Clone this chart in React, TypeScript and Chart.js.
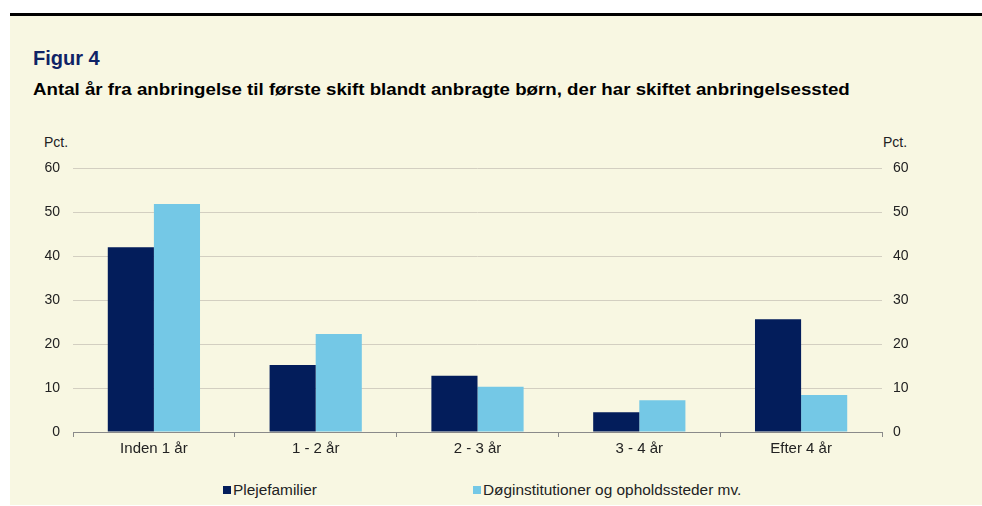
import React, { useEffect, useRef } from "react";
import { Chart, registerables } from "chart.js";

Chart.register(...registerables);

const categories = ["Inden 1 år", "1 - 2 år", "2 - 3 år", "3 - 4 år", "Efter 4 år"];
const seriesNames = ["Plejefamilier", "Døginstitutioner og opholdssteder mv."];
const plejefamilier = [42.0, 15.2, 12.8, 4.5, 25.6];
const doeginstitutioner = [51.8, 22.3, 10.3, 7.2, 8.4];
const seriesColors = ["#031D5B", "#74C8E6"];
const yTicks = [0, 10, 20, 30, 40, 50, 60];

const FONT = '"Liberation Sans", Arial, Helvetica, sans-serif';
const TEXT = "#222222";

export default function App() {
  const canvasRef = useRef<HTMLCanvasElement | null>(null);

  useEffect(() => {
    const canvas = canvasRef.current;
    if (!canvas) return;
    const chart = new Chart(canvas, {
      type: "bar",
      data: {
        labels: categories,
        datasets: [
          {
            label: seriesNames[0],
            data: plejefamilier,
            backgroundColor: seriesColors[0],
            borderWidth: 0,
            categoryPercentage: 0.57,
            barPercentage: 1.0,
          },
          {
            label: seriesNames[1],
            data: doeginstitutioner,
            backgroundColor: seriesColors[1],
            borderWidth: 0,
            categoryPercentage: 0.57,
            barPercentage: 1.0,
          },
        ],
      },
      options: {
        responsive: false,
        animation: false,
        devicePixelRatio: 1,
        layout: { padding: { top: 168, left: 0, right: 0, bottom: 0 } },
        plugins: {
          legend: { display: false },
          tooltip: { enabled: false },
        },
        scales: {
          x: {
            offset: true,
            grid: {
              display: true,
              drawOnChartArea: false,
              drawTicks: true,
              tickLength: 5,
              color: "#8A8A8A",
              offset: true,
            },
            border: { display: true, color: "#8A8A8A", width: 1 },
            ticks: {
              color: TEXT,
              font: { family: FONT, size: 15 },
              padding: 3,
              maxRotation: 0,
            },
            afterFit: (s: any) => {
              s.height = 38;
            },
          },
          y: {
            position: "left",
            min: 0,
            max: 60,
            afterBuildTicks: (s: any) => {
              s.ticks = yTicks.map((v) => ({ value: v }));
            },
            grid: { color: "#D3CFC1", lineWidth: 1, drawTicks: false },
            border: { display: false },
            ticks: {
              color: TEXT,
              font: { family: FONT, size: 14 },
              padding: 13,
            },
            afterFit: (s: any) => {
              s.width = 73;
            },
          },
          y2: {
            position: "right",
            min: 0,
            max: 60,
            afterBuildTicks: (s: any) => {
              s.ticks = yTicks.map((v) => ({ value: v }));
            },
            grid: { display: false, drawTicks: false },
            border: { display: false },
            ticks: {
              color: TEXT,
              font: { family: FONT, size: 14 },
              padding: 11,
            },
            afterFit: (s: any) => {
              s.width = 100;
            },
          },
        },
      },
    });
    return () => chart.destroy();
  }, []);

  const legendPos = [223, 473];

  return (
    <div
      style={{
        position: "absolute",
        left: 0,
        top: 0,
        width: 982,
        height: 506,
        background: "#ffffff",
        fontFamily: FONT,
        overflow: "hidden",
      }}
    >
      <div style={{ position: "absolute", left: 10, top: 13, width: 972, height: 3, background: "#000" }} />
      <div style={{ position: "absolute", left: 10, top: 16, width: 972, height: 489, background: "#F8F7E2" }} />
      <div
        style={{
          position: "absolute",
          left: 33,
          top: 47.5,
          fontSize: 20,
          lineHeight: "20px",
          fontWeight: "bold",
          color: "#0F2366",
          whiteSpace: "nowrap",
        }}
      >
        Figur 4
      </div>
      <div
        style={{
          position: "absolute",
          left: 33,
          top: 80.5,
          fontSize: 17,
          lineHeight: "17px",
          fontWeight: "bold",
          color: "#000",
          whiteSpace: "nowrap",
          transform: "scaleX(1.1)",
          transformOrigin: "0 0",
        }}
      >
        Antal år fra anbringelse til første skift blandt anbragte børn, der har skiftet anbringelsessted
      </div>
      <div style={{ position: "absolute", left: 44, top: 135, fontSize: 14, lineHeight: "14px", color: TEXT }}>Pct.</div>
      <div style={{ position: "absolute", left: 883, top: 135, fontSize: 14, lineHeight: "14px", color: TEXT }}>Pct.</div>
      <canvas
        ref={canvasRef}
        width={982}
        height={470}
        style={{ position: "absolute", left: 0, top: 0, width: 982, height: 470 }}
      />
      {seriesNames.map((name, i) => (
        <div
          key={name}
          style={{
            position: "absolute",
            left: legendPos[i],
            top: 482,
            height: 16,
            display: "flex",
            alignItems: "center",
            whiteSpace: "nowrap",
            fontSize: 14,
            color: TEXT,
          }}
        >
          <span style={{ display: "inline-block", width: 8, height: 8, background: seriesColors[i], marginRight: 2 }} />
          <span style={{ display: "inline-block", transform: "scaleX(1.1)", transformOrigin: "0 50%" }}>{name}</span>
        </div>
      ))}
    </div>
  );
}
